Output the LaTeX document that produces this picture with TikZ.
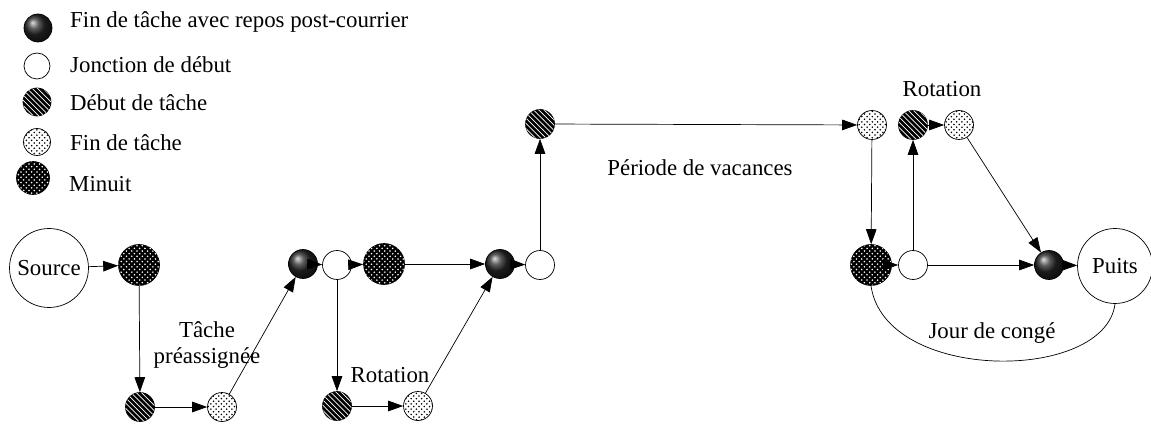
\documentclass[tikz,border=0pt]{standalone}
\usepackage{fontspec}
\setmainfont{Liberation Serif}
\usetikzlibrary{arrows.meta,patterns}

\tikzset{
  every node/.style={font=\fontsize{13}{15}\selectfont},
  restend/.style={circle, draw, minimum size=0.58cm, inner sep=0pt, shading=ball, ball color=black!85},
  junction/.style={circle, draw, thin, fill=white, minimum size=0.58cm, inner sep=0pt},
  taskstart/.style={circle, draw, fill=black, minimum size=0.58cm, inner sep=0pt,
    postaction={pattern=north west lines, pattern color=white}},
  taskend/.style={circle, draw, fill=white, minimum size=0.58cm, inner sep=0pt,
    postaction={pattern=crosshatch dots, pattern color=black}},
  midnight/.style={circle, draw, fill=black, minimum size=0.82cm, inner sep=0pt,
    postaction={pattern=crosshatch dots, pattern color=white}},
  endpoint/.style={circle, draw, thin, fill=white, minimum size=1.5cm, inner sep=0pt},
  flow/.style={-{Triangle[length=8.5pt, width=6pt]}, thin},
}

\begin{document}
\begin{tikzpicture}[x=0.02cm, y=-0.02cm]
  \useasboundingbox (0,0) rectangle (1151,425);

  % legend
  \node[restend, minimum size=0.56cm] (lgRest) at (38, 28) {};
  \node[anchor=west] at (64, 22) {Fin de tâche avec repos post-courrier};
  \node[junction, minimum size=0.52cm] (lgJoin) at (37, 66) {};
  \node[anchor=west] at (64, 65) {Jonction de début};
  \node[taskstart, minimum size=0.56cm] (lgStart) at (37, 102) {};
  \node[anchor=west] at (64, 103) {Début de tâche};
  \node[taskend, minimum size=0.54cm] (lgFinish) at (37, 142) {};
  \node[anchor=west] at (64, 143) {Fin de tâche};
  \node[midnight, minimum size=0.66cm] (lgMid) at (33, 178) {};
  \node[anchor=west] at (63, 184) {Minuit};

  % pre-assigned task
  \node[endpoint, minimum size=1.58cm] (src) at (49, 268) {Source};
  \node[midnight] (m1) at (139, 265) {};
  \node[taskstart] (s1) at (140, 407) {};
  \node[taskend] (f1) at (222, 407) {};
  \node[align=center] (lbTask) at (207, 345) {Tâche\\préassignée};

  \draw[flow] (src) -- (m1);
  \draw[flow] (m1) -- (s1);
  \draw[flow] (s1) -- (f1);

  % first rotation
  \node[restend] (r1) at (303, 264) {};
  \node[junction] (j1) at (337, 265) {};
  \node[midnight] (m2) at (384, 264) {};
  \node[taskstart] (s2) at (337, 406) {};
  \node[taskend] (f2) at (418, 406) {};
  \node (lbRot1) at (390, 375) {Rotation};

  \draw[flow] (f1) -- (r1);
  \draw[flow] (r1) -- (j1);
  \draw[flow] (j1) -- (m2);
  \draw[flow] (j1) -- (s2);
  \draw[flow] (s2) -- (f2);

  % holidays
  \node[restend] (r2) at (500, 264) {};
  \node[junction] (j2) at (540, 265) {};
  \node[taskstart] (s3) at (540, 124) {};
  \node[taskend] (f3) at (872, 125) {};
  \node (lbHoliday) at (700, 168) {Période de vacances};

  \draw[flow] (f2) -- (r2);
  \draw[flow] (m2) -- (r2);
  \draw[flow] (r2) -- (j2);
  \draw[flow] (j2) -- (s3);
  \draw[flow] (s3) -- (f3);

  % last rotation and sink
  \node[midnight] (m3) at (871, 265) {};
  \node[junction] (j3) at (913, 265) {};
  \node[taskstart] (s4) at (913, 125) {};
  \node[taskend] (f4) at (959, 125) {};
  \node (lbRot2) at (942, 89) {Rotation};
  \node[restend] (r3) at (1049, 265) {};
  \node[endpoint] (sink) at (1115, 266) {Puits};

  \draw[flow] (f3) -- (m3);
  \draw[flow] (m3) -- (j3);
  \draw[flow] (j3) -- (s4);
  \draw[flow] (s4) -- (f4);
  \draw[flow] (f4) -- (r3);
  \draw[flow] (j3) -- (r3);
  \draw[flow] (r3) -- (sink);

  % day off
  \draw[thin] (m3.south) .. controls (885, 383) and (1105, 383) .. (sink.south);
  \node (lbDayOff) at (992, 333) {Jour de congé};
\end{tikzpicture}
\end{document}
